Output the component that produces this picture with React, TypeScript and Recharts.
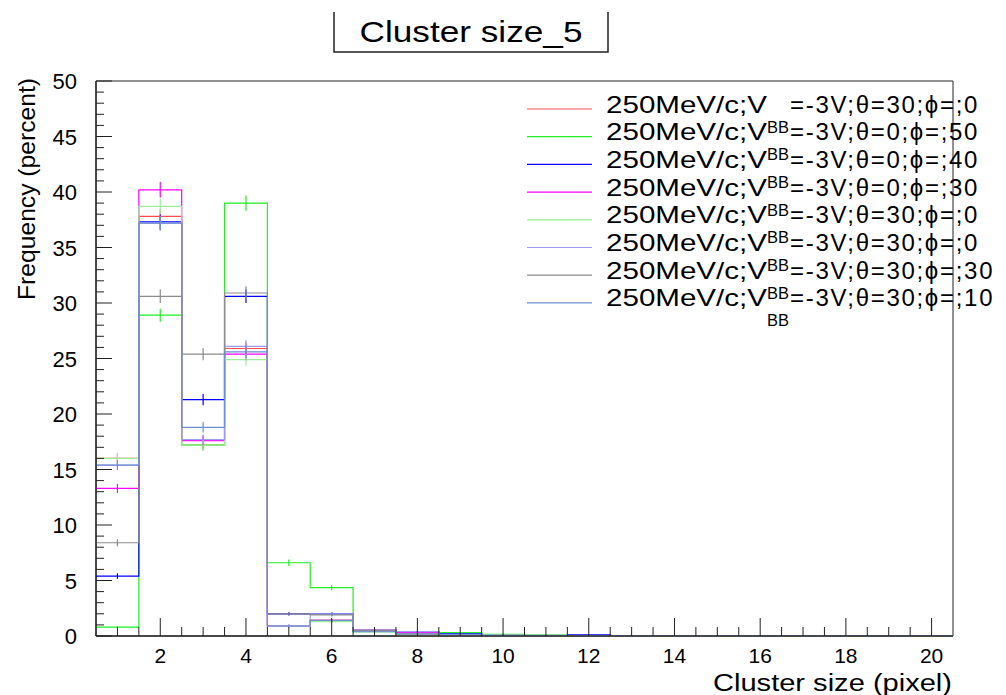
import { ComposedChart, Line, Scatter, ErrorBar, XAxis, YAxis, ReferenceArea } from 'recharts'

const FONT = '"Liberation Sans", Arial, Helvetica, sans-serif'

const BINS = [1, 2, 3, 4, 5, 6, 7, 8, 9, 10, 11, 12, 13, 14, 15, 16, 17, 18, 19, 20]
const X_TICKS = [1, 1.5, 2, 2.5, 3, 3.5, 4, 4.5, 5, 5.5, 6, 6.5, 7, 7.5, 8, 8.5, 9, 9.5, 10, 10.5, 11, 11.5, 12, 12.5, 13, 13.5, 14, 14.5, 15, 15.5, 16, 16.5, 17, 17.5, 18, 18.5, 19, 19.5, 20]
const X_LABELS = [2, 4, 6, 8, 10, 12, 14, 16, 18, 20]
const Y_TICKS = [0, 1, 2, 3, 4, 5, 6, 7, 8, 9, 10, 11, 12, 13, 14, 15, 16, 17, 18, 19, 20, 21, 22, 23, 24, 25, 26, 27, 28, 29, 30, 31, 32, 33, 34, 35, 36, 37, 38, 39, 40, 41, 42, 43, 44, 45, 46, 47, 48, 49, 50]
const Y_LABELS = [0, 5, 10, 15, 20, 25, 30, 35, 40, 45, 50]

// frequency (percent) per cluster size bin, one array per run
const red = [16.0, 37.8, 17.2, 25.9, 0.9, 1.4, 0.5, 0.2, 0.1, 0, 0, 0, 0, 0, 0, 0, 0, 0, 0, 0]
const green = [0.8, 28.9, 17.2, 39.0, 6.6, 4.35, 0.4, 0.3, 0.3, 0.15, 0.1, 0, 0, 0, 0, 0, 0, 0, 0, 0]
const blue = [5.4, 37.3, 21.3, 30.6, 2.0, 2.0, 0.5, 0.4, 0.2, 0.1, 0.05, 0.1, 0, 0, 0, 0, 0, 0, 0, 0]
const magenta = [13.3, 40.2, 17.6, 25.4, 0.9, 1.4, 0.5, 0.3, 0.1, 0.05, 0, 0, 0, 0, 0, 0, 0, 0, 0, 0]
const lightGreen = [16.0, 38.7, 17.2, 24.9, 0.9, 1.3, 0.4, 0.2, 0.1, 0.1, 0.1, 0, 0, 0, 0, 0, 0, 0, 0, 0]
const lavender = [15.4, 37.2, 17.7, 26.1, 0.9, 2.0, 0.5, 0.4, 0.1, 0, 0, 0, 0, 0, 0, 0, 0, 0, 0, 0]
const gray = [8.4, 30.6, 25.4, 30.9, 2.0, 1.9, 0.5, 0.2, 0.1, 0, 0, 0, 0, 0, 0, 0, 0, 0, 0, 0]
const steel = [15.4, 37.2, 18.8, 25.6, 0.9, 1.4, 0.4, 0.2, 0.1, 0, 0, 0, 0, 0, 0, 0, 0, 0, 0, 0]

const SERIES = [red, green, blue, magenta, lightGreen, lavender, gray, steel]
const COLORS = ['#ff4d4d', '#22ee22', '#0000ff', '#ff00ff', '#99ee99', '#9c9cf0', '#8c8c8c', '#6f8fd0']
const THETA = ['30', '0', '0', '0', '30', '30', '30', '30']
const PHI = ['0', '50', '40', '30', '0', '0', '30', '10']

// step outline: one row per lower bin edge plus the closing edge
const stepRows = [
  ...BINS.map((b, i) => {
    const row: any = { x: b - 0.5 }
    SERIES.forEach((s, k) => (row['s' + k] = s[i]))
    return row
  }),
  (() => {
    const row: any = { x: 20.5 }
    SERIES.forEach((s, k) => (row['s' + k] = s[s.length - 1]))
    return row
  })(),
]

const errRows = SERIES.map(s =>
  BINS.map((b, i) => ({ x: b, y: s[i], err: 0.11 * Math.sqrt(s[i]) })).filter(d => d.y > 0)
)

const XTick = (props: any) => {
  const { x, y, payload } = props
  const major = X_LABELS.includes(payload.value)
  return (
    <g>
      <line x1={x} x2={x} y1={y} y2={y - (major ? 18 : 9)} stroke="#222" strokeWidth={1} />
      {major && (
        <text x={x} y={y + 27} textAnchor="middle" fontSize={21} fontFamily={FONT} fill="#000">
          {payload.value}
        </text>
      )}
    </g>
  )
}

const YTick = (props: any) => {
  const { x, y, payload } = props
  const major = Y_LABELS.includes(payload.value)
  return (
    <g>
      <line x1={x} x2={x + (major ? 16 : 8)} y1={y} y2={y} stroke="#222" strokeWidth={1} />
      {major && (
        <text x={x - 19} y={y + 8} textAnchor="end" fontSize={22} fontFamily={FONT} fill="#000">
          {payload.value}
        </text>
      )}
    </g>
  )
}

const LEGEND_TOP = 109
const LEGEND_STEP = 27.7

export default function App() {
  return (
    <div style={{ position: 'absolute', left: 0, top: 0, width: 1006, height: 695, background: '#fff' }}>
      <ComposedChart
        width={1006}
        height={695}
        data={stepRows}
        margin={{ top: 81, right: 53, bottom: 0, left: 0 }}
      >
        <XAxis
          dataKey="x"
          type="number"
          domain={[0.5, 20.5]}
          ticks={X_TICKS}
          interval={0}
          allowDataOverflow
          height={59}
          tickSize={0}
          tickMargin={0}
          tick={XTick}
          axisLine={{ stroke: '#000' }}
        />
        <YAxis
          type="number"
          domain={[0, 50]}
          ticks={Y_TICKS}
          interval={0}
          allowDataOverflow
          width={96}
          tickSize={0}
          tickMargin={0}
          tick={YTick}
          axisLine={{ stroke: '#000' }}
        />
        <ReferenceArea x1={0.5} x2={20.5} y1={0} y2={50} fill="none" stroke="#222" strokeWidth={1} />
        {SERIES.map((_, k) => (
          <Line
            key={'l' + k}
            dataKey={'s' + k}
            type="stepAfter"
            stroke={COLORS[k]}
            strokeWidth={1.2}
            dot={false}
            activeDot={false}
            isAnimationActive={false}
          />
        ))}
        {SERIES.map((_, k) => (
          <Scatter
            key={'e' + k}
            data={errRows[k]}
            dataKey="y"
            shape={() => <g />}
            isAnimationActive={false}
          >
            <ErrorBar dataKey="err" direction="y" width={0} stroke={COLORS[k]} strokeWidth={1.2} isAnimationActive={false} />
          </Scatter>
        ))}
      </ComposedChart>

      <svg
        width={1006}
        height={695}
        style={{ position: 'absolute', left: 0, top: 0, pointerEvents: 'none' }}
        fontFamily={FONT}
      >
        {/* title pave */}
        <path d="M334,12 V52 H608 V12" fill="none" stroke="#222" strokeWidth={1.5} />
        <text x={471} y={42} textAnchor="middle" fontSize={30} fill="#000" textLength={223} lengthAdjust="spacingAndGlyphs">
          Cluster size_5
        </text>

        {/* axis titles */}
        <text
          transform="translate(35,78) rotate(-90)"
          textAnchor="end"
          fontSize={24}
          fill="#000"
          textLength={222}
          lengthAdjust="spacingAndGlyphs"
        >
          Frequency (percent)
        </text>
        <text x={952} y={691} textAnchor="end" fontSize={23} fill="#000" textLength={239} lengthAdjust="spacingAndGlyphs">
          Cluster size (pixel)
        </text>

        {/* legend */}
        {COLORS.map((c, k) => {
          const ly = LEGEND_TOP + k * LEGEND_STEP
          const base = ly + 3.5
          const tail = '=-3V;\u03b8=' + THETA[k] + ';\u03d5=;' + PHI[k]
          return (
            <g key={'lg' + k}>
              <line x1={527} x2={592} y1={ly} y2={ly} stroke={c} strokeWidth={1.2} />
              <text x={606} y={base} fontSize={24} fill="#000" textLength={161} lengthAdjust="spacingAndGlyphs">
                250MeV/c;V
              </text>
              <text x={767} y={base + 20} fontSize={16} fill="#000" textLength={22} lengthAdjust="spacingAndGlyphs">
                BB
              </text>
              <text x={790} y={base} fontSize={24} fill="#000" letterSpacing={1.7}>
                {tail}
              </text>
            </g>
          )
        })}
      </svg>
    </div>
  )
}
